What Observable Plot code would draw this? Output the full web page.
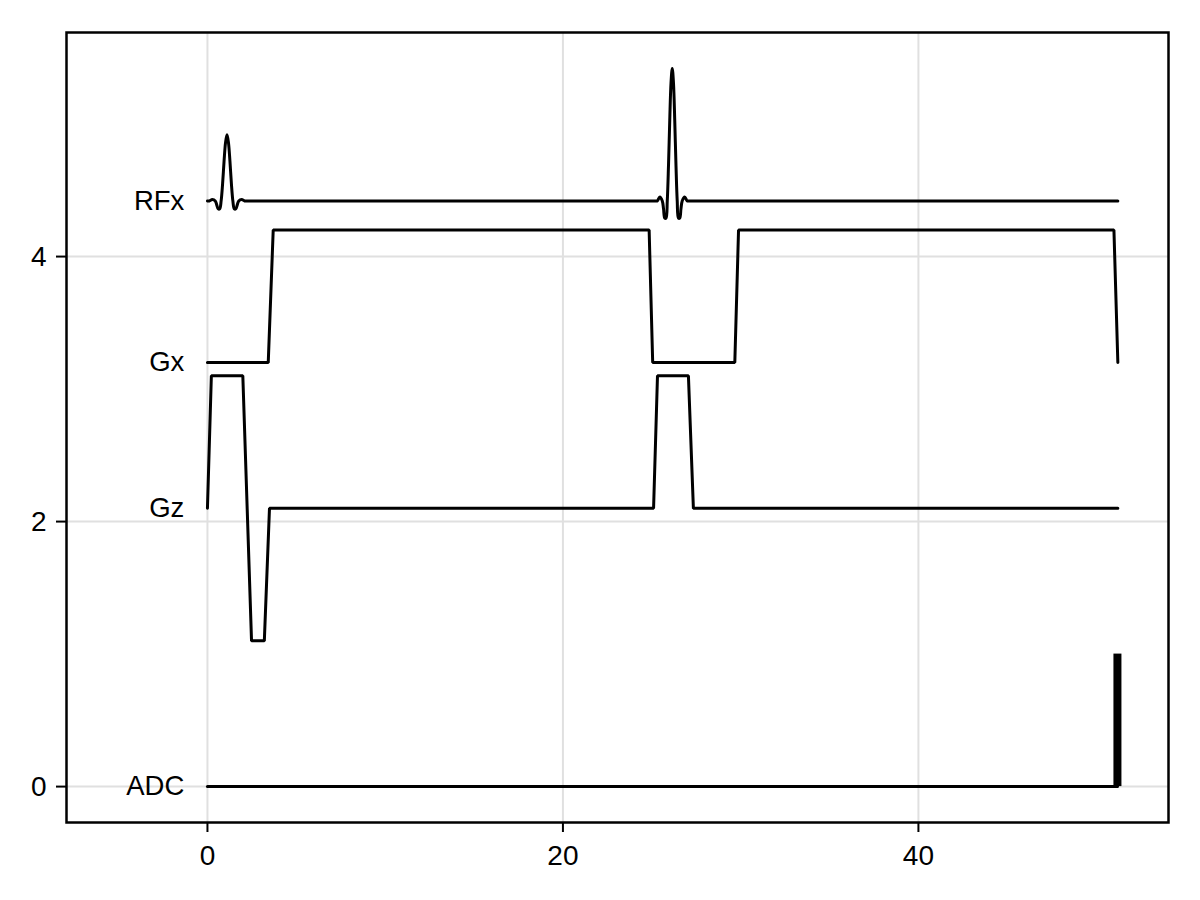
<!DOCTYPE html>
<html>
<head>
<meta charset="utf-8">
<script src="https://cdn.jsdelivr.net/npm/d3@7"></script>
<script src="https://cdn.jsdelivr.net/npm/@observablehq/plot@0.6"></script>
<style>
  html, body { margin: 0; padding: 0; background: #fff; }
  #chart { width: 1200px; height: 900px; }
  svg { font-family: "Liberation Sans", Arial, "DejaVu Sans", sans-serif; }
</style>
</head>
<body>
<div id="chart"></div>
<script>
// ---- data ----
// RF (x channel): time and amplitude (offset baseline 4.42)
const rfTime = [0, 0.11, 0.275, 0.44, 0.5225, 0.605, 0.6875, 0.77, 0.8525, 0.935, 1.0175, 1.1,
  1.1825, 1.265, 1.3475, 1.43, 1.5125, 1.595, 1.6775, 1.76, 1.925, 2.09, 2.2,
  25.22, 25.31, 25.45, 25.59, 25.66, 25.73, 25.80, 25.87, 25.94, 26.01, 26.08, 26.15,
  26.22, 26.29, 26.36, 26.43, 26.50, 26.57, 26.64, 26.71, 26.85, 26.99, 27.08, 51.22];
const rfValue = [4.42, 4.42, 4.43, 4.42, 4.39, 4.36, 4.36, 4.42, 4.55, 4.72, 4.86, 4.92,
  4.86, 4.72, 4.55, 4.42, 4.36, 4.36, 4.39, 4.42, 4.43, 4.42, 4.42,
  4.42, 4.42, 4.45, 4.42, 4.36, 4.29, 4.29, 4.42, 4.69, 5.03, 5.31, 5.42,
  5.31, 5.03, 4.69, 4.42, 4.29, 4.29, 4.36, 4.42, 4.45, 4.42, 4.42, 4.42];

// Gx gradient (offset baseline 3.2)
const gxTime  = [0, 3.42, 3.70, 24.85, 25.05, 29.67, 29.88, 51.0, 51.22];
const gxValue = [3.2, 3.2, 4.2, 4.2, 3.2, 3.2, 4.2, 4.2, 3.2];

// Gz gradient (offset baseline 2.1)
const gzTime  = [0, 0.22, 1.99, 2.48, 3.2, 3.49, 25.1, 25.32, 27.06, 27.34, 51.22];
const gzValue = [2.1, 3.1, 3.1, 1.1, 1.1, 2.1, 2.1, 3.1, 3.1, 2.1, 2.1];

// ADC (baseline 0) and readout block
const adcTime  = [0, 51.2];
const adcValue = [0, 0];
const adcBlockStart = [51.0];
const adcBlockEnd   = [51.45];
const adcBlockHigh  = [1];

// channel labels
const labelNames = ["RFx", "Gx", "Gz", "ADC"];
const labelY     = [4.42, 3.2, 2.1, 0];
const labelX     = -1.3;

// ticks
const xTicks = [0, 20, 40];
const yTicks = [0, 2, 4];
const xTickLabels = ["0", "20", "40"];
const yTickLabels = ["0", "2", "4"];

// ---- build tables ----
const zip = (t, v) => t.map((d, i) => ({t: d, v: v[i]}));
const rf = zip(rfTime, rfValue);
const gx = zip(gxTime, gxValue);
const gz = zip(gzTime, gzValue);
const adc = zip(adcTime, adcValue);
const adcBlock = adcBlockStart.map((s, i) => ({x1: s, x2: adcBlockEnd[i], y2: adcBlockHigh[i]}));
const labels = labelNames.map((n, i) => ({name: n, y: labelY[i], x: labelX}));
const xTickRows = xTicks.map((v, i) => ({v, label: xTickLabels[i]}));
const yTickRows = yTicks.map((v, i) => ({v, label: yTickLabels[i]}));

const gridColor = "#e0e0e0";
const font = '"Liberation Sans", Arial, sans-serif';

const chart = Plot.plot({
  width: 1200,
  height: 900,
  marginLeft: 66,
  marginRight: 32,
  marginTop: 32,
  marginBottom: 78,
  style: {fontFamily: font, background: "#fff", color: "#000"},
  x: {domain: [-7.93, 54.07]},
  y: {domain: [-0.271, 5.691]},
  marks: [
    Plot.ruleX(xTicks, {stroke: gridColor, strokeWidth: 2}),
    Plot.ruleY(yTicks, {stroke: gridColor, strokeWidth: 2}),
    Plot.axisX({ticks: xTicks, tickSize: 10, strokeWidth: 2, label: null, tickFormat: () => ""}),
    Plot.axisY({ticks: yTicks, tickSize: 10, strokeWidth: 2, label: null, tickFormat: () => ""}),
    Plot.text(xTickRows, {x: "v", text: "label", frameAnchor: "bottom", lineAnchor: "top", dy: 23, fontSize: 28, fill: "black"}),
    Plot.text(yTickRows, {y: "v", text: "label", frameAnchor: "left", textAnchor: "end", dx: -20, fontSize: 28, fill: "black"}),
    Plot.line(adc, {x: "t", y: "v", stroke: "black", strokeWidth: 3}),
    Plot.rect(adcBlock, {x1: "x1", x2: "x2", y1: 0, y2: "y2", fill: "black"}),
    Plot.line(gz, {x: "t", y: "v", stroke: "black", strokeWidth: 3, strokeLinejoin: "miter"}),
    Plot.line(gx, {x: "t", y: "v", stroke: "black", strokeWidth: 3, strokeLinejoin: "miter"}),
    Plot.line(rf, {x: "t", y: "v", stroke: "black", strokeWidth: 3, curve: "catmull-rom"}),
    Plot.text(labels, {x: "x", y: "y", text: "name", textAnchor: "end", fontSize: 27.5, fill: "black"}),
    Plot.frame({stroke: "black", strokeWidth: 2.5})
  ]
});
document.getElementById("chart").appendChild(chart);
</script>
</body>
</html>
